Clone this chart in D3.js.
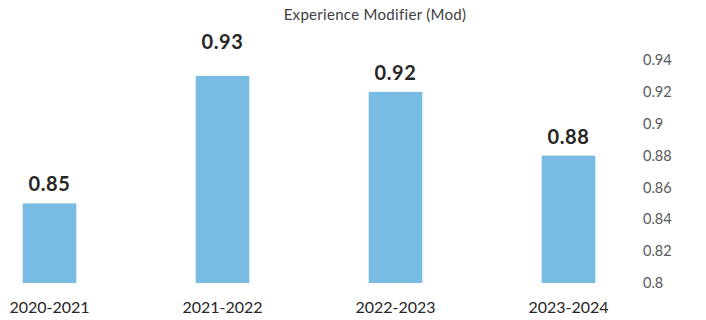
<!DOCTYPE html>
<html>
<head>
<meta charset="utf-8">
<script src="https://cdn.jsdelivr.net/npm/d3@7"></script>
<style>
  body { margin: 0; background: #fff; }
  svg text { font-family: Lato, "Open Sans", sans-serif; }
  .yAxis .domain { display: none; }
  .yAxis text { fill: #595959; font-size: 14.5px; }
</style>
</head>
<body>
<div id="graph"></div>
<script>
const TITLE = 'Experience Modifier (Mod)'
const SEASONS = ['2020-2021', '2021-2022', '2022-2023', '2023-2024']
const MODS = [0.85, 0.93, 0.92, 0.88]
const TICKS = [0.8, 0.82, 0.84, 0.86, 0.88, 0.9, 0.92, 0.94]

const WIDTH = 706
const HEIGHT = 320
const BASE_Y = 283
const TOP_Y = 60
const BAR_COLOR = '#79bce3'

const main = _ => {
    const xScale = d3.scaleBand()
        .domain(SEASONS)
        .range([-37, 655])
        .paddingInner(0.69)
        .paddingOuter(0.345)

    const yScale = d3.scaleLinear()
        .domain([0.8, 0.94])
        .range([BASE_Y, TOP_Y])

    const graph = d3.select('#graph')
        .append('svg')
        .attr('width', WIDTH)
        .attr('height', HEIGHT)

    graph.append('text')
        .attr('x', 375)
        .attr('y', 20)
        .attr('text-anchor', 'middle')
        .attr('font-size', 15)
        .attr('letter-spacing', 0.3)
        .attr('fill', '#404040')
        .text(TITLE)

    graph.selectAll('rect')
        .data(MODS)
        .enter()
        .append('rect')
        .attr('x', (d, i) => xScale(SEASONS[i]))
        .attr('width', xScale.bandwidth())
        .attr('y', d => yScale(d))
        .attr('height', d => BASE_Y - yScale(d))
        .attr('fill', BAR_COLOR)

    // the tallest bar's label sits a bit higher in the original
    const top = d3.max(MODS)
    graph.selectAll('.valueLabel')
        .data(MODS)
        .enter()
        .append('text')
        .attr('class', 'valueLabel')
        .attr('x', (d, i) => xScale(SEASONS[i]) + xScale.bandwidth() / 2)
        .attr('y', d => yScale(d) - (d === top ? 27 : 12))
        .attr('text-anchor', 'middle')
        .attr('font-size', 20)
        .attr('letter-spacing', 0.6)
        .attr('font-weight', 'bold')
        .attr('fill', '#262626')
        .text(d => d)

    graph.selectAll('.catLabel')
        .data(SEASONS)
        .enter()
        .append('text')
        .attr('class', 'catLabel')
        .attr('x', d => xScale(d) + xScale.bandwidth() / 2)
        .attr('y', 313)
        .attr('text-anchor', 'middle')
        .attr('font-size', 16)
        .attr('fill', '#262626')
        .text(d => d)

    const yAxis = d3.axisRight(yScale)
        .tickValues(TICKS)
        .tickSize(0)
        .tickPadding(0)
        .tickFormat(d => d3.format('')(+d.toFixed(2)))

    graph.append('g')
        .attr('class', 'yAxis')
        .attr('transform', 'translate(643, 0)')
        .call(yAxis)
}

document.addEventListener('DOMContentLoaded', main)
</script>
</body>
</html>
